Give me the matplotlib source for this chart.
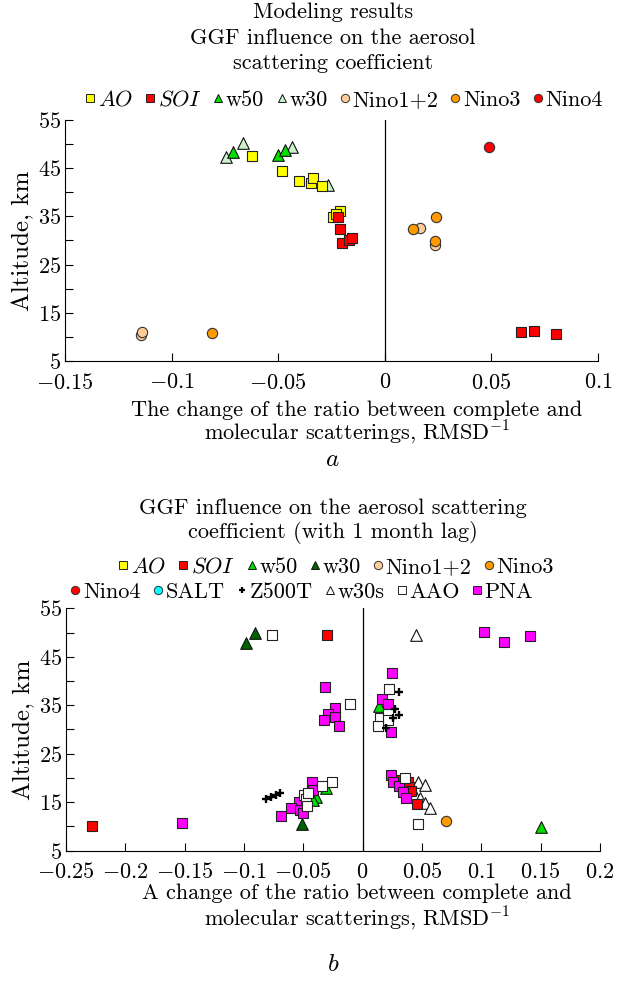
import matplotlib
matplotlib.use('Agg')
import matplotlib.pyplot as plt

plt.rcParams['font.family'] = ['cmr10', 'DejaVu Serif']
plt.rcParams['mathtext.fontset'] = 'cm'
plt.rcParams['axes.unicode_minus'] = False
plt.rcParams['axes.formatter.use_mathtext'] = True

# ---- panel a: modeling results ----
a_ao_x = [-0.0624, -0.0482, -0.0403, -0.0346, -0.0338, -0.0294, -0.0208, -0.0245, -0.0228]
a_ao_y = [47.5, 44.4, 42.3, 41.9, 42.9, 41.3, 36.1, 34.9, 35.5]
a_soi_x = [-0.0219, -0.0211, -0.0202, -0.0170, -0.0155, 0.0640, 0.0700, 0.0805]
a_soi_y = [34.9, 32.4, 29.4, 30.0, 30.5, 11.0, 11.3, 10.5]
a_w50_x = [-0.0714, -0.0503, -0.0466]
a_w50_y = [48.3, 47.8, 48.8]
a_w30_x = [-0.0744, -0.0663, -0.0435, -0.0267]
a_w30_y = [47.4, 50.2, 49.3, 41.6]
a_nino12_x = [-0.1145, -0.1140, 0.0166, 0.0236]
a_nino12_y = [10.4, 11.0, 32.5, 29.1]
a_nino3_x = [-0.0810, 0.0131, 0.0236, 0.0239]
a_nino3_y = [10.8, 32.3, 29.9, 34.8]
a_nino4_x = [0.049]
a_nino4_y = [49.4]

# ---- panel b: 1 month lag ----
b_ao_x = []
b_ao_y = []
b_soi_x = [-0.228, -0.030, 0.0326, 0.0382, 0.0390, 0.0410, 0.0457]
b_soi_y = [10.0, 49.6, 19.6, 19.1, 18.2, 17.4, 14.6]
b_w50_x = [0.0137, -0.0393, -0.0306, -0.0418, 0.1504]
b_w50_y = [34.8, 16.1, 18.0, 15.5, 9.8]
b_w30_x = [-0.0979, -0.0909, -0.0511]
b_w30_y = [47.8, 50.0, 10.4]
b_nino12_x = []
b_nino12_y = []
b_nino3_x = [0.0704]
b_nino3_y = [11.1]
b_nino4_x = [0.037]
b_nino4_y = [17.8]
b_salt_x = []
b_salt_y = []
b_z500t_x = [0.0311, 0.0269, 0.0311, 0.0255, 0.0200, -0.0810, -0.0769, -0.0727, -0.0700]
b_z500t_y = [37.8, 34.3, 32.9, 32.4, 30.4, 15.7, 16.0, 16.5, 16.8]
b_w30s_x = [0.0452, 0.0471, 0.0522, 0.0438, 0.0480, 0.0528, 0.0570]
b_w30s_y = [49.6, 19.1, 18.5, 16.5, 15.8, 14.8, 13.9]
b_aao_x = [-0.0763, 0.0225, 0.0143, 0.0210, 0.0213, 0.0129, 0.0354, 0.0471, -0.0104,
           -0.0261, -0.0343, -0.0494, -0.0474, -0.0469, -0.0460]
b_aao_y = [49.6, 38.3, 32.4, 33.1, 32.0, 30.7, 19.9, 10.6, 35.2,
           19.2, 18.3, 16.5, 15.6, 14.3, 16.8]
b_pna_x = [-0.152, -0.0314, 0.102, 0.1195, 0.1414, 0.0247, 0.0160, 0.0213, 0.0241,
           0.0241, 0.0255, 0.0306, 0.0340, 0.0368, -0.0233, -0.0289, -0.0233, -0.0326,
           -0.0200, -0.0424, -0.0418, -0.0536, -0.0600, -0.0530, -0.0505, -0.0690]
b_pna_y = [10.8, 38.7, 50.2, 48.0, 49.3, 41.6, 36.2, 35.2, 29.5,
           20.6, 19.2, 18.4, 17.0, 15.9, 34.4, 33.2, 32.6, 31.9,
           30.8, 19.1, 17.5, 15.1, 13.7, 13.4, 12.7, 12.2]

a_xticks = [-0.15, -0.1, -0.05, 0, 0.05, 0.1]
a_xlabels = ['$-0.15$', '$-0.1$', '$-0.05$', '$0$', '$0.05$', '$0.1$']
b_xticks = [-0.25, -0.2, -0.15, -0.1, -0.05, 0, 0.05, 0.1, 0.15, 0.2]
b_xlabels = ['$-0.25$', '$-0.2$', '$-0.15$', '$-0.1$', '$-0.05$', '$0$',
             '$0.05$', '$0.1$', '$0.15$', '$0.2$']
yticks = [5, 15, 25, 35, 45, 55]
ylabels = ['$5$', '$15$', '$25$', '$35$', '$45$', '$55$']

FS = 16
sq = dict(marker='s', s=55, edgecolors='#222222', linewidths=0.8)
tri = dict(marker='^', s=70, edgecolors='#111111', linewidths=0.8)
circ = dict(marker='o', s=55, edgecolors='#333333', linewidths=0.8)

fig = plt.figure(figsize=(6.22, 9.85), dpi=100)


def style_axis(ax, xticks, xlabels, xlim):
    ax.set_xlim(xlim)
    ax.set_ylim(5, 55)
    ax.spines['top'].set_visible(False)
    ax.spines['right'].set_visible(False)
    ax.set_xticks(xticks)
    ax.set_xticklabels(xlabels, fontsize=FS)
    ax.set_yticks(yticks)
    ax.set_yticklabels(ylabels, fontsize=FS)
    ax.set_yticks([10, 20, 30, 40, 50], minor=True)
    ax.tick_params(direction='in', length=6, width=0.8)
    ax.tick_params(axis='x', pad=8.5)
    ax.tick_params(axis='y', pad=3)
    ax.tick_params(which='minor', direction='in', length=6, width=0.8)
    ax.axvline(0, color='black', lw=0.9, zorder=1)
    ax.set_ylabel('Altitude, km', fontsize=FS + 2)


def h(**kw):
    opts = dict(linestyle='none', markersize=6, markeredgewidth=0.7)
    opts.update(kw)
    return plt.Line2D([], [], **opts)


def legend_row(handles, names, x, y):
    fig.legend(handles, names, loc='center', bbox_to_anchor=(x, y), ncol=len(names),
               frameon=False, fontsize=FS, handlelength=0.45, handletextpad=0.12,
               columnspacing=0.55, borderpad=0, borderaxespad=0)


# panel a
ax1 = fig.add_axes([0.1045, 0.6335, 0.857, 0.2447])
ax1.scatter(a_w30_x, a_w30_y, color='#ccf2cc', **tri)
ax1.scatter(a_w50_x, a_w50_y, color='#00e000', **tri)
ax1.scatter(a_nino12_x, a_nino12_y, color='#ffcc99', **circ)
ax1.scatter(a_nino3_x, a_nino3_y, color='#ff9900', **circ)
ax1.scatter(a_nino4_x, a_nino4_y, color='#ff0000', **circ)
ax1.scatter(a_ao_x, a_ao_y, color='#ffff00', **sq)
ax1.scatter(a_soi_x, a_soi_y, color='#ff0000', **sq)
style_axis(ax1, a_xticks, a_xlabels, (-0.15, 0.1))
ax1.yaxis.set_label_coords(-0.058, 0.5)

a_handles = [h(marker='s', markerfacecolor='#ffff00', markeredgecolor='#222222'),
             h(marker='s', markerfacecolor='#ff0000', markeredgecolor='#222222'),
             h(marker='^', markerfacecolor='#00e000', markeredgecolor='#111111'),
             h(marker='^', markerfacecolor='#ccf2cc', markeredgecolor='#111111'),
             h(marker='o', markerfacecolor='#ffcc99', markeredgecolor='#333333'),
             h(marker='o', markerfacecolor='#ff9900', markeredgecolor='#333333'),
             h(marker='o', markerfacecolor='#ff0000', markeredgecolor='#333333')]
a_names = ['$AO$', '$SOI$', 'w50', 'w30', 'Nino1+2', 'Nino3', 'Nino4']
legend_row(a_handles, a_names, 0.553, 0.8985)

fig.text(0.535, 0.9878, 'Modeling results', ha='center', va='center', fontsize=FS)
fig.text(0.535, 0.9614, 'GGF influence on the aerosol', ha='center', va='center', fontsize=FS)
fig.text(0.535, 0.936, 'scattering coefficient', ha='center', va='center', fontsize=FS)
fig.text(0.574, 0.5835, 'The change of the ratio between complete and', ha='center',
         va='center', fontsize=FS)
fig.text(0.574, 0.561, 'molecular scatterings, RMSD$^{-1}$', ha='center', va='center', fontsize=FS)
fig.text(0.535, 0.533, '$a$', ha='center', va='center', fontsize=FS + 2)

# panel b
ax2 = fig.add_axes([0.106, 0.1364, 0.8585, 0.246])
ax2.scatter(b_w30s_x, b_w30s_y, color='white', **tri)
ax2.scatter(b_w30_x, b_w30_y, color='#006400', **tri)
ax2.scatter(b_w50_x, b_w50_y, color='#00e000', **tri)
ax2.scatter(b_nino12_x, b_nino12_y, color='#ffcc99', **circ)
ax2.scatter(b_nino3_x, b_nino3_y, color='#ff9900', **circ)
ax2.scatter(b_nino4_x, b_nino4_y, color='#ff0000', **circ)
ax2.scatter(b_salt_x, b_salt_y, color='#00ffff', **circ)
ax2.scatter(b_ao_x, b_ao_y, color='#ffff00', **sq)
ax2.scatter(b_soi_x, b_soi_y, color='#ff0000', **sq)
ax2.scatter(b_pna_x, b_pna_y, color='#ff00ff', **sq)
ax2.scatter(b_aao_x, b_aao_y, color='white', **sq)
ax2.scatter(b_z500t_x, b_z500t_y, marker='+', s=32, color='black', linewidths=1.7)
style_axis(ax2, b_xticks, b_xlabels, (-0.25, 0.2))
ax2.yaxis.set_label_coords(-0.058, 0.5)

b_handles1 = [h(marker='s', markerfacecolor='#ffff00', markeredgecolor='#222222'),
              h(marker='s', markerfacecolor='#ff0000', markeredgecolor='#222222'),
              h(marker='^', markerfacecolor='#00e000', markeredgecolor='#111111'),
              h(marker='^', markerfacecolor='#006400', markeredgecolor='#111111'),
              h(marker='o', markerfacecolor='#ffcc99', markeredgecolor='#333333'),
              h(marker='o', markerfacecolor='#ff9900', markeredgecolor='#333333')]
b_names1 = ['$AO$', '$SOI$', 'w50', 'w30', 'Nino1+2', 'Nino3']
b_handles2 = [h(marker='o', markerfacecolor='#ff0000', markeredgecolor='#333333'),
              h(marker='o', markerfacecolor='#00ffff', markeredgecolor='#333333'),
              h(marker='+', color='black', markeredgewidth=1.6, markersize=5),
              h(marker='^', markerfacecolor='white', markeredgecolor='#111111'),
              h(marker='s', markerfacecolor='white', markeredgecolor='#222222'),
              h(marker='s', markerfacecolor='#ff00ff', markeredgecolor='#222222')]
b_names2 = ['Nino4', 'SALT', 'Z500T', 'w30s', 'AAO', 'PNA']
legend_row(b_handles1, b_names1, 0.54, 0.4244)
legend_row(b_handles2, b_names2, 0.485, 0.399)

fig.text(0.535, 0.4843, 'GGF influence on the aerosol scattering', ha='center',
         va='center', fontsize=FS)
fig.text(0.535, 0.4589, 'coefficient (with 1 month lag)', ha='center', va='center', fontsize=FS)
fig.text(0.574, 0.0934, 'A change of the ratio between complete and', ha='center',
         va='center', fontsize=FS)
fig.text(0.574, 0.068, 'molecular scatterings, RMSD$^{-1}$', ha='center', va='center', fontsize=FS)
fig.text(0.535, 0.0203, '$b$', ha='center', va='center', fontsize=FS + 2)

fig.savefig('out.png', dpi=100)
